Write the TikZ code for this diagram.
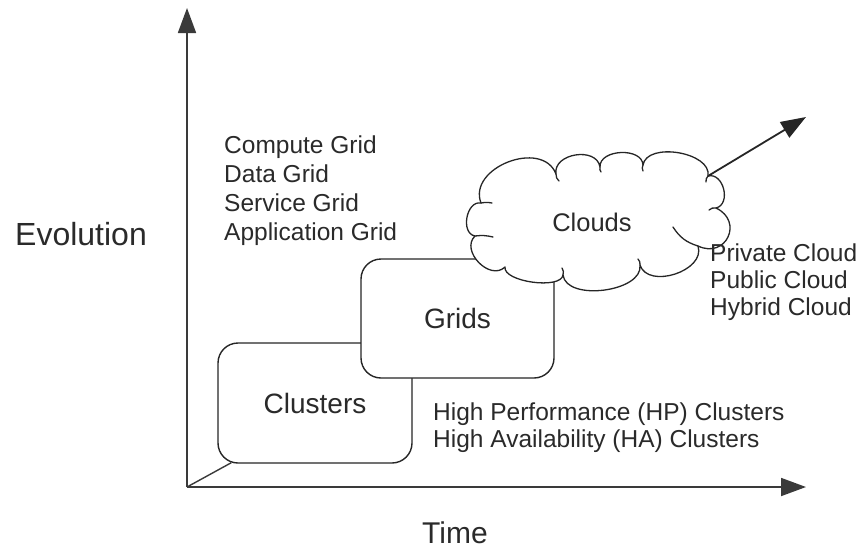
\documentclass[tikz,border=0pt]{standalone}
\usepackage{fontspec}
\setmainfont{Liberation Sans}
\usetikzlibrary{arrows.meta,calc}
\definecolor{ink}{HTML}{2A2A2A}
\definecolor{edge}{HTML}{262626}
\definecolor{axisgray}{HTML}{3A3A3A}
\begin{document}
\begin{tikzpicture}[x=1pt,y=-1pt,
  txt/.style={text=ink, inner sep=0pt, anchor=base west, font=\fontsize{24.5}{28}\selectfont},
  bigtxt/.style={text=ink, inner sep=0pt, anchor=base west},
  stagebox/.style={draw=edge, line width=1.4pt, fill=white, rounded corners=20pt,
    inner sep=0pt, text=ink, font=\fontsize{28}{32}\selectfont},
  cloudline/.style={draw=edge, line width=1.3pt, line join=round, line cap=round},
  axisline/.style={draw=axisgray, line width=1.8pt, -{Triangle[length=25pt,width=18pt]}},
  trendline/.style={draw=edge, line width=1.8pt, -{Triangle[length=25pt,width=18pt]}}]
\useasboundingbox (0,0) rectangle (862,550);

% axes
\coordinate (origin) at (187,487);
\coordinate (ytop) at (187,8);
\coordinate (xend) at (806,487);
\draw[axisline] (origin) -- (ytop);
\draw[axisline] (origin) -- (xend);

% the two stage boxes
\node[stagebox, minimum width=194pt, minimum height=120pt] (clusters) at (315,403) {Clusters};
\draw[draw=axisgray, line width=1.4pt] (origin) -- ($(clusters.south west)+(14,-1)$);
\node[stagebox, minimum width=193pt, minimum height=119pt] (grids) at (457.5,318.5) {Grids};

% cloud outline: scallops between cusp points
\coordinate (cA) at (556,174);
\coordinate (cB) at (600,167);
\coordinate (cC) at (643,165);
\coordinate (cD) at (708,176);
\coordinate (cE) at (716,208);
\coordinate (cF) at (698,246);
\coordinate (cG) at (640,265);
\coordinate (cH) at (563,275);
\coordinate (cI) at (505,267);
\coordinate (cJ) at (475,236);
\coordinate (cK) at (481,203);
\path[cloudline, fill=white] (cA)
  .. controls ($(cA)!21pt!90:(cB)$) and ($(cB)!21pt!-90:(cA)$) .. (cB)
  .. controls ($(cB)!18pt!90:(cC)$) and ($(cC)!18pt!-90:(cB)$) .. (cC)
  .. controls ($(cC)!24pt!90:(cD)$) and ($(cD)!24pt!-90:(cC)$) .. (cD)
  .. controls ($(cD)!16pt!90:(cE)$) and ($(cE)!16pt!-90:(cD)$) .. (cE)
  .. controls ($(cE)!31pt!90:(cF)$) and ($(cF)!31pt!-90:(cE)$) .. (cF)
  .. controls ($(cF)!26pt!90:(cG)$) and ($(cG)!26pt!-90:(cF)$) .. (cG)
  .. controls ($(cG)!27pt!90:(cH)$) and ($(cH)!27pt!-90:(cG)$) .. (cH)
  .. controls ($(cH)!15pt!90:(cI)$) and ($(cI)!15pt!-90:(cH)$) .. (cI)
  .. controls ($(cI)!21pt!90:(cJ)$) and ($(cJ)!21pt!-90:(cI)$) .. (cJ)
  .. controls ($(cJ)!15pt!90:(cK)$) and ($(cK)!15pt!-90:(cJ)$) .. (cK)
  .. controls ($(cK)!38pt!90:(cA)$) and ($(cA)!38pt!-90:(cK)$) .. (cA)
  -- cycle;
% small inward hooks at the cusps
\draw[cloudline] (cA) to[bend right=25] ++(3,7);
\draw[cloudline] (cB) to[bend right=25] ++(1,5);
\draw[cloudline] (cC) to[bend right=25] ++(0,6);
\draw[cloudline] (cD) to[bend right=25] ++(-2,6);
\draw[cloudline] (cE) to[bend right=25] ++(-7,2);
\draw[cloudline] (cF) to[bend left=20] (673,227);
\draw[cloudline] (cG) to[bend right=25] ++(-2,-6);
\draw[cloudline] (cH) to[bend right=25] ++(-1,-7);
\draw[cloudline] (cJ) to[bend left=10] (493,237);
\draw[cloudline] (cK) to[bend left=10] (492,203);
\node[text=ink, inner sep=0pt, font=\fontsize{25.5}{30}\selectfont] (clouds) at (592,222) {Clouds};

% trend arrow leaving the cloud
\coordinate (trendtip) at (806,117);
\draw[trendline] (cD) -- (trendtip);

% axis titles
\node[bigtxt, font=\fontsize{32}{36}\selectfont] (evo) at (15,245) {Evolution};
\node[bigtxt, font=\fontsize{30}{34}\selectfont] (time) at (422,543) {Time};

% kinds of grids
\node[txt] (g1) at (224,153) {Compute Grid};
\node[txt] (g2) at (224,182) {Data Grid};
\node[txt] (g3) at (224,211) {Service Grid};
\node[txt] (g4) at (224,240) {Application Grid};

% kinds of clouds
\node[txt] (c1) at (710,261) {Private Cloud};
\node[txt] (c2) at (710,288) {Public Cloud};
\node[txt] (c3) at (710,315) {Hybrid Cloud};

% kinds of clusters
\node[txt] (k1) at (433,420) {High Performance (HP) Clusters};
\node[txt] (k2) at (433,447) {High Availability (HA) Clusters};
\end{tikzpicture}
\end{document}
